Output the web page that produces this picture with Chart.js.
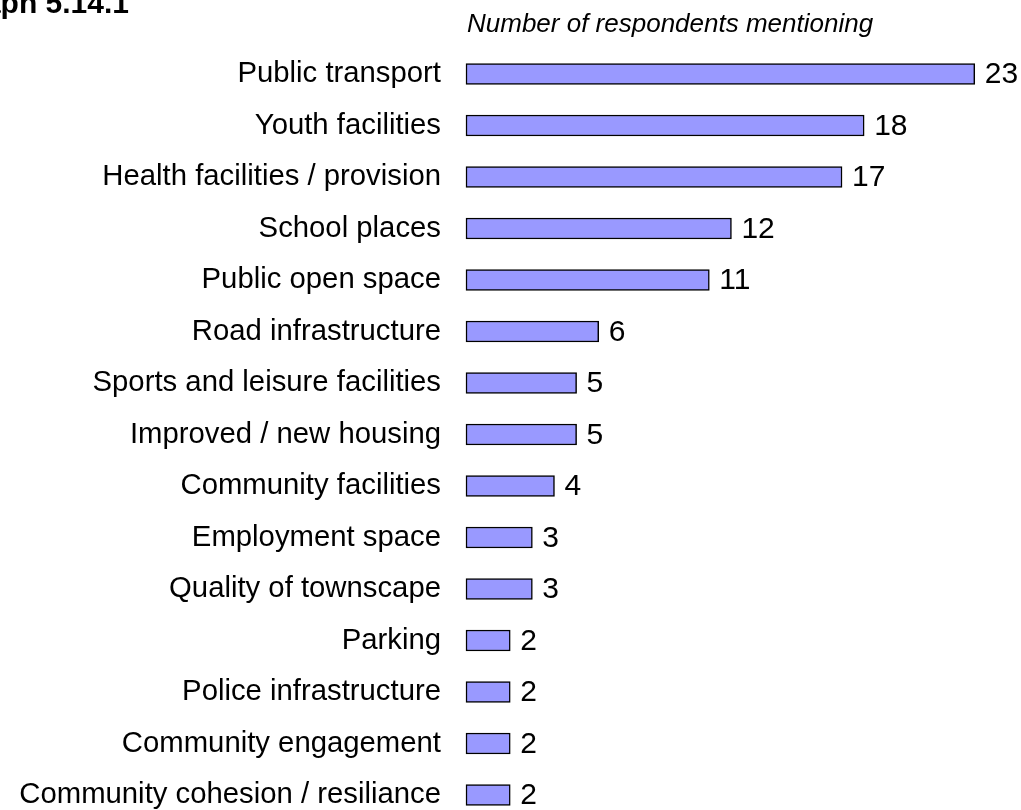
<!DOCTYPE html>
<html>
<head>
<meta charset="utf-8">
<script src="https://cdn.jsdelivr.net/npm/chart.js@4"></script>
<style>
    html, body { margin: 0; padding: 0; background: #fff; }
    #chart-wrap { width: 1021px; height: 810px; overflow: hidden; }
</style>
</head>
<body>
<div id="chart-wrap">
    <canvas id="facilities-chart" width="1021" height="810"></canvas>
</div>
<script>
const chartTitle = 'Graph 5.14.1';
const axisCaption = 'Number of respondents mentioning';

const categories = [
    'Public transport',
    'Youth facilities',
    'Health facilities / provision',
    'School places',
    'Public open space',
    'Road infrastructure',
    'Sports and leisure facilities',
    'Improved / new housing',
    'Community facilities',
    'Employment space',
    'Quality of townscape',
    'Parking',
    'Police infrastructure',
    'Community engagement',
    'Community cohesion / resiliance',
];
const respondents = [23, 18, 17, 12, 11, 6, 5, 5, 4, 3, 3, 2, 2, 2, 2];

const FONT = '"Liberation Sans", Arial, sans-serif';

// value printed just past the end of every bar
const valueLabels = {
    id: 'valueLabels',
    afterDatasetsDraw(chart) {
        const ctx = chart.ctx;
        const meta = chart.getDatasetMeta(0);
        ctx.save();
        ctx.font = `30px ${FONT}`;
        ctx.fillStyle = '#000';
        ctx.textAlign = 'left';
        ctx.textBaseline = 'middle';
        meta.data.forEach((bar, i) => {
            ctx.fillText(String(respondents[i]), bar.x + 10, bar.y + 1);
        });
        ctx.restore();
    },
};

// heading in the corner and the caption above the bars
const headings = {
    id: 'headings',
    afterDraw(chart) {
        const ctx = chart.ctx;
        ctx.save();
        ctx.fillStyle = '#000';
        ctx.textBaseline = 'alphabetic';
        ctx.font = `bold 30px ${FONT}`;
        ctx.textAlign = 'right';
        ctx.fillText(chartTitle, 129, 13);
        ctx.font = `italic 26px ${FONT}`;
        ctx.textAlign = 'left';
        ctx.fillText(axisCaption, chart.chartArea.left + 1, 32);
        ctx.restore();
    },
};

new Chart(document.getElementById('facilities-chart'), {
    type: 'bar',
    data: {
        labels: categories,
        datasets: [
            {
                data: respondents,
                backgroundColor: '#9999ff',
                borderColor: '#000',
                borderWidth: 1.5,
                borderSkipped: false,
                barThickness: 21,
                clip: false,
            },
        ],
    },
    options: {
        indexAxis: 'y',
        responsive: false,
        animation: false,
        devicePixelRatio: 1,
        layout: {
            padding: { top: 74, bottom: 15, left: 0, right: 2 },
        },
        plugins: {
            legend: { display: false },
            tooltip: { enabled: false },
        },
        scales: {
            x: {
                display: false,
                min: 0,
                max: 25,
            },
            y: {
                offset: false,
                grid: { display: false, drawTicks: false },
                border: { display: false },
                ticks: {
                    autoSkip: false,
                    padding: 25,
                    color: '#000',
                    font: { family: FONT, size: 29.3 },
                },
                afterFit: scale => {
                    scale.width = 466;
                    // first and last rows sit on the plot edges, no extra room
                    scale.paddingTop = 0;
                    scale.paddingBottom = 0;
                },
            },
        },
    },
    plugins: [valueLabels, headings],
});
</script>
</body>
</html>
